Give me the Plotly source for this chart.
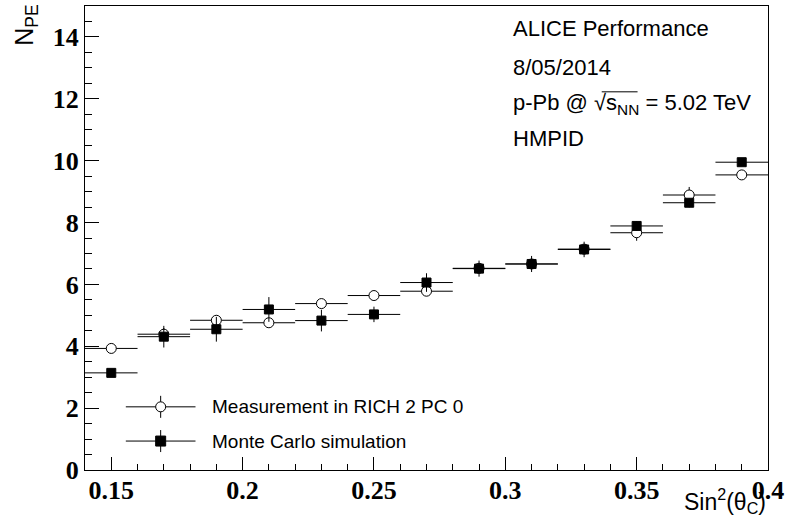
import plotly.graph_objects as go

# Cherenkov angle bins (centre and half width) and photo-electron yields
sin2_theta = [0.15, 0.17, 0.19, 0.21, 0.23, 0.25, 0.27, 0.29, 0.31, 0.33, 0.35, 0.37, 0.39]
bin_half_width = [0.01] * 13

npe_measured = [3.93, 4.39, 4.84, 4.76, 5.38, 5.64, 5.78, 6.52, 6.66, 7.14, 7.67, 8.89, 9.54]
npe_measured_err = [0.10, 0.20, 0.15, 0.10, 0.12, 0.10, 0.12, 0.15, 0.15, 0.15, 0.26, 0.26, 0.10]

npe_mc = [3.14, 4.31, 4.55, 5.19, 4.83, 5.03, 6.06, 6.51, 6.66, 7.13, 7.89, 8.64, 9.95]
npe_mc_err = [0.10, 0.35, 0.40, 0.40, 0.35, 0.25, 0.30, 0.26, 0.26, 0.25, 0.15, 0.15, 0.10]

x_tick_values = [0.15, 0.2, 0.25, 0.3, 0.35, 0.4]
x_tick_labels = ["0.15", "0.2", "0.25", "0.3", "0.35", "0.4"]
y_tick_values = [0, 2, 4, 6, 8, 10, 12, 14]
y_tick_labels = ["0", "2", "4", "6", "8", "10", "12", "14"]

series_names = ["Measurement in RICH 2 PC 0", "Monte Carlo simulation"]
info_lines = [
    "ALICE Performance",
    "8/05/2014",
    "p-Pb @ √s<sub>NN</sub> = 5.02 TeV",
    "HMPID",
]

# canvas geometry (pixels)
W, H = 789, 529
ML, MR, MT, MB = 85, 18, 5, 59
PW, PH = W - ML - MR, H - MT - MB


def px(xp):
    return (xp - ML) / PW


def py(yp):
    return (H - MB - yp) / PH


SANS = "Liberation Sans"
SERIF = "Liberation Serif"

fig = go.Figure()

fig.add_trace(go.Scatter(
    x=sin2_theta, y=npe_measured, mode="markers", name=series_names[0],
    error_x=dict(type="data", array=bin_half_width, width=0, thickness=1, color="black"),
    error_y=dict(type="data", array=npe_measured_err, width=0, thickness=1, color="black"),
    marker=dict(symbol="circle", size=10, color="white", line=dict(color="black", width=1)),
    showlegend=False,
))
fig.add_trace(go.Scatter(
    x=sin2_theta, y=npe_mc, mode="markers", name=series_names[1],
    error_x=dict(type="data", array=bin_half_width, width=0, thickness=1, color="black"),
    error_y=dict(type="data", array=npe_mc_err, width=0, thickness=1, color="black"),
    marker=dict(symbol="square", size=9, color="black", line=dict(color="black", width=1)),
    showlegend=False,
))

shapes = []
annotations = []

# legend keys: horizontal + vertical error bar with the marker on top
legend_rows = [(406.7, "circle"), (441.0, "rect")]
for (yrow, kind), name in zip(legend_rows, series_names):
    yp = py(yrow)
    xc = px(161)
    shapes.append(dict(type="line", xref="paper", yref="paper",
                       x0=px(126), x1=px(196), y0=yp, y1=yp,
                       line=dict(color="black", width=1)))
    shapes.append(dict(type="line", xref="paper", yref="paper", ysizemode="pixel",
                       yanchor=yp, x0=xc, x1=xc, y0=-11, y1=11,
                       line=dict(color="black", width=1)))
    shapes.append(dict(type=kind, xref="paper", yref="paper",
                       xsizemode="pixel", ysizemode="pixel", xanchor=xc, yanchor=yp,
                       x0=-5, x1=5, y0=-5, y1=5,
                       fillcolor="white" if kind == "circle" else "black",
                       line=dict(color="black", width=1)))
    annotations.append(dict(text=name, xref="paper", yref="paper", x=px(211), y=yp,
                            xanchor="left", yanchor="middle", showarrow=False,
                            font=dict(family=SANS, size=19, color="black")))

# information block, top right
for line, yc in zip(info_lines, [28, 67, 103, 138]):
    annotations.append(dict(text=line, xref="paper", yref="paper", x=px(513), y=py(yc),
                            xanchor="left", yanchor="middle", showarrow=False,
                            font=dict(family=SANS, size=22, color="black")))

# bar of the square root over s_NN
shapes.append(dict(type="line", xref="paper", yref="paper",
                   x0=px(604), x1=px(640), y0=py(91), y1=py(91),
                   line=dict(color="black", width=1)))

# axis titles
annotations.append(dict(text="N<sub>PE</sub>", xref="paper", yref="paper",
                        x=px(25), y=py(2), xanchor="center", yanchor="top",
                        textangle=-90, showarrow=False,
                        font=dict(family=SANS, size=25, color="black")))
annotations.append(dict(text="Sin<sup>2</sup>(θ<sub>C</sub>)", xref="paper", yref="paper",
                        x=1.0, y=py(501), xanchor="right", yanchor="middle",
                        showarrow=False,
                        font=dict(family=SANS, size=23, color="black")))

axis_common = dict(
    showline=True, mirror=True, linecolor="black", linewidth=1,
    showgrid=False, zeroline=False,
    ticks="inside", tickcolor="black", tickwidth=1,
    tickfont=dict(family=SERIF, size=26, color="black", weight="bold"),
)

fig.update_layout(
    width=W, height=H,
    margin=dict(l=ML, r=MR, t=MT, b=MB),
    paper_bgcolor="white", plot_bgcolor="white",
    xaxis=dict(range=[0.14, 0.4], tickvals=x_tick_values, ticktext=x_tick_labels,
               ticklen=13, ticklabelstandoff=-3,
               minor=dict(dtick=0.01, tick0=0.14, ticks="inside", ticklen=6,
                          tickcolor="black", tickwidth=1, showgrid=False),
               **axis_common),
    yaxis=dict(range=[0, 15], tickvals=y_tick_values, ticktext=y_tick_labels,
               ticklen=14,
               minor=dict(dtick=0.5, tick0=0, ticks="inside", ticklen=7,
                          tickcolor="black", tickwidth=1, showgrid=False),
               **axis_common),
    shapes=shapes,
    annotations=annotations,
    showlegend=False,
)

fig.write_html("out.html")
